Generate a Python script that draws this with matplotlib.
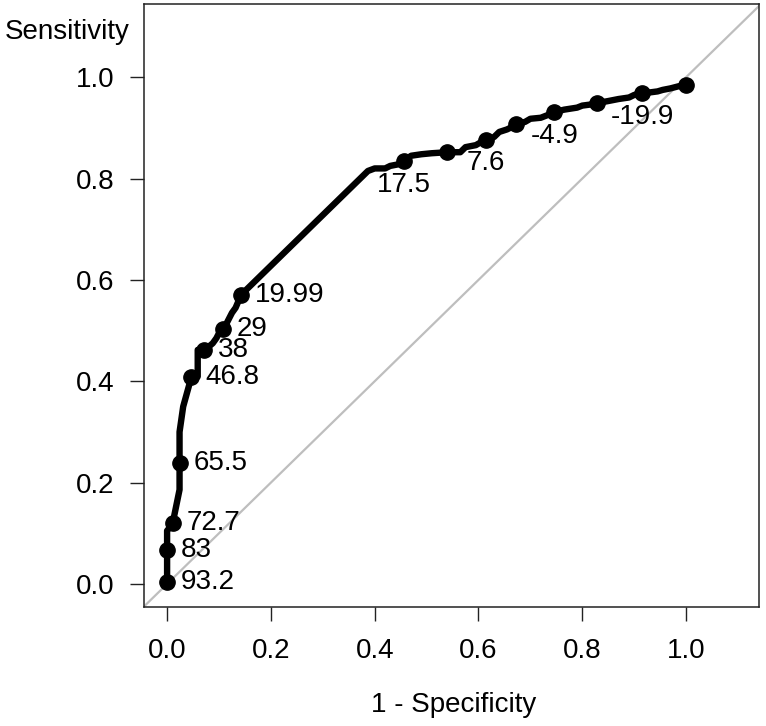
import matplotlib
matplotlib.use("Agg")
import matplotlib.pyplot as plt

plt.rcParams['font.family'] = ['Liberation Sans', 'DejaVu Sans']

# ROC curve path (1 - specificity, sensitivity)
curve_fpr = [0.000, 0.000, 0.000, 0.008, 0.011, 0.024, 0.024, 0.024, 0.031, 0.047,
             0.059, 0.059, 0.072, 0.080, 0.088, 0.095, 0.100, 0.107,
             0.115, 0.120, 0.125, 0.132, 0.137, 0.143,
             0.387, 0.400, 0.420, 0.430, 0.445, 0.457, 0.470, 0.490, 0.510, 0.540,
             0.565, 0.575, 0.595, 0.605, 0.615,
             0.630, 0.640, 0.655, 0.665, 0.673,
             0.690, 0.700, 0.720, 0.735, 0.746,
             0.765, 0.790, 0.800, 0.815, 0.829,
             0.850, 0.870, 0.890, 0.900, 0.915,
             0.930, 0.945, 0.955, 0.970, 0.985, 1.000]
curve_tpr = [0.004, 0.067, 0.105, 0.115, 0.121, 0.186, 0.239, 0.300, 0.350, 0.409,
             0.409, 0.462, 0.462, 0.468, 0.475, 0.485, 0.495, 0.504,
             0.515, 0.525, 0.535, 0.545, 0.557, 0.571,
             0.815, 0.820, 0.820, 0.825, 0.828, 0.834, 0.845, 0.848, 0.850, 0.852,
             0.852, 0.862, 0.866, 0.872, 0.877,
             0.882, 0.892, 0.897, 0.902, 0.907,
             0.912, 0.918, 0.920, 0.926, 0.931,
             0.936, 0.940, 0.944, 0.946, 0.949,
             0.953, 0.957, 0.960, 0.965, 0.968,
             0.970, 0.972, 0.975, 0.978, 0.982, 0.984]

# threshold points
pt_fpr = [0.000, 0.000, 0.011, 0.024, 0.047, 0.072, 0.107, 0.143,
          0.457, 0.540, 0.615, 0.673, 0.746, 0.829, 0.915, 1.000]
pt_tpr = [0.004, 0.067, 0.121, 0.239, 0.409, 0.462, 0.504, 0.571,
          0.834, 0.852, 0.877, 0.907, 0.931, 0.949, 0.968, 0.984]
pt_labels = ["93.2", "83", "72.7", "65.5", "46.8", "38", "29", "19.99",
             "17.5", "", "7.6", "", "-4.9", "", "-19.9", ""]
# label placement: 'r' = right of point, 'b' = below point
pt_pos = ['r', 'r', 'r', 'r', 'r', 'r', 'r', 'r',
          'b', 'b', 'b', 'b', 'b', 'b', 'b', 'b']

x_ticks = [0.0, 0.2, 0.4, 0.6, 0.8, 1.0]
y_ticks = [0.0, 0.2, 0.4, 0.6, 0.8, 1.0]

W, H, DPI = 766, 726, 100
fig = plt.figure(figsize=(W / DPI, H / DPI), dpi=DPI)
ax = fig.add_axes([144 / W, 1 - 607 / H, (759 - 144) / W, (607 - 4) / H])

ax.set_xlim(-0.0445, 1.1405)
ax.set_ylim(-0.0455, 1.1445)

ax.axline((0, 0), (1, 1), color='#bebebe', lw=1.6, zorder=1)
ax.plot(curve_fpr, curve_tpr, color='black', lw=4.6, solid_joinstyle='round',
        solid_capstyle='round', zorder=2)
ax.plot(pt_fpr, pt_tpr, 'o', color='black', ms=11, zorder=3)

fs = 20
for x, y, lab, pos in zip(pt_fpr, pt_tpr, pt_labels, pt_pos):
    if not lab:
        continue
    if pos == 'r':
        ax.annotate(lab, (x, y), xytext=(10, 0), textcoords='offset points',
                    ha='left', va='center', fontsize=fs)
    else:
        ax.annotate(lab, (x, y), xytext=(0, -17), textcoords='offset points',
                    ha='center', va='center', fontsize=fs)

ax.set_xticks(x_ticks)
ax.set_yticks(y_ticks)
ax.set_xticklabels([f"{v:.1f}" for v in x_ticks])
ax.set_yticklabels([f"{v:.1f}" for v in y_ticks])
ax.tick_params(axis='both', direction='out', length=10, width=1.0,
               color='#222222', labelsize=fs, labelcolor='black')
ax.tick_params(axis='x', pad=12.5)
ax.tick_params(axis='y', pad=11)
for sp in ax.spines.values():
    sp.set_color('#222222')
    sp.set_linewidth(1.1)

fig.text(130 / W, 1 - 39 / H, "Sensitivity", ha='right', va='baseline', fontsize=fs)
fig.text(453.5 / W, 1 - 712 / H, "1 - Specificity", ha='center', va='baseline', fontsize=fs)

fig.savefig("out.png", dpi=DPI)
